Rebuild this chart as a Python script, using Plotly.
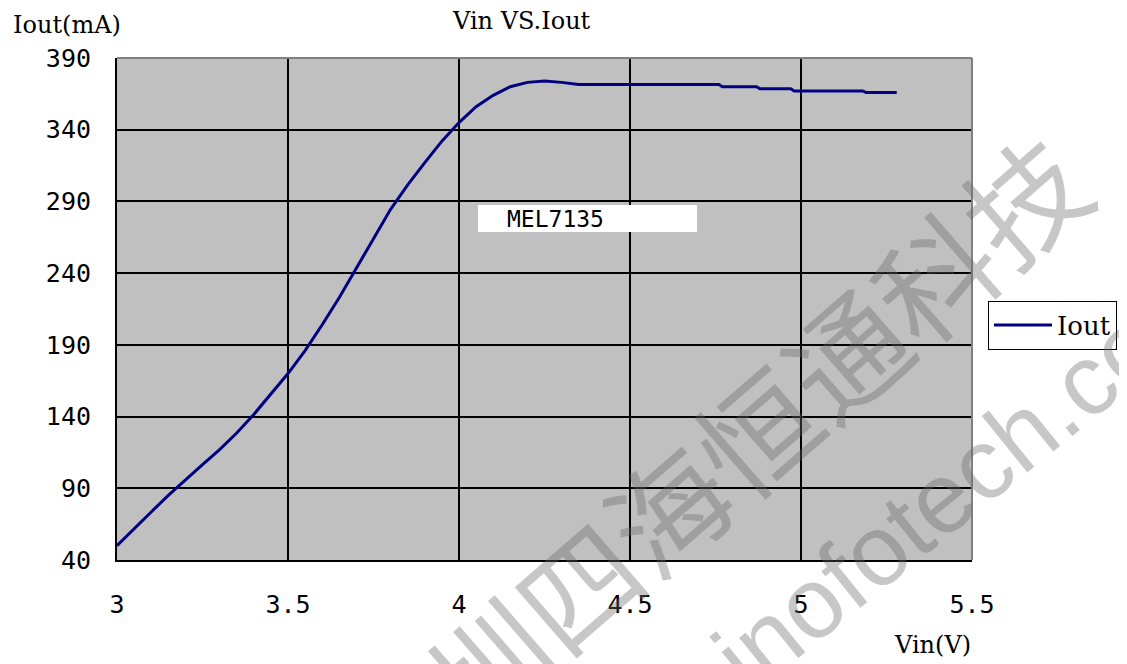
import plotly.graph_objects as go

# ---- data ----
vin = [3.0, 3.05, 3.1, 3.15, 3.2, 3.25, 3.3, 3.35, 3.4, 3.45, 3.5, 3.55, 3.6, 3.65,
       3.7, 3.75, 3.8, 3.85, 3.9, 3.95, 4.0, 4.05, 4.1, 4.15, 4.2, 4.25, 4.3, 4.35,
       4.45, 4.55, 4.65, 4.76, 4.77, 4.87, 4.88, 4.97, 4.98, 5.08, 5.18, 5.19, 5.28]
iout = [50, 62, 73.5, 85, 96, 106.5, 117, 128.5, 141.5, 155.5, 170, 186, 204, 223,
        243, 264, 284.5, 301.5, 317, 332, 345, 356, 364, 370, 373, 374, 373, 371.5,
        371.5, 371.5, 371.5, 371.5, 370, 370, 368.5, 368.5, 367, 367, 367, 366, 366]

series_name = "Iout"
chart_title = "Vin VS.Iout"
x_title = "Vin(V)"
y_title = "Iout(mA)"
label_text = "MEL7135"
x_ticks = [3, 3.5, 4, 4.5, 5, 5.5]
x_ticktext = ["3", "3.5", "4", "4.5", "5", "5.5"]
y_ticks = [40, 90, 140, 190, 240, 290, 340, 390]
watermark_cn = "深圳四海恒通科技"
watermark_url = "sinofotech.com"

OFF = 8                      # page body margin
W, H = 1127 - OFF, 664 - OFF
L, T = 117 - OFF, 58 - OFF
pw, ph = 855, 502
R, B = W - L - pw, H - T - ph

def px(x):  # reference pixel -> paper x
    return (x - OFF - L) / pw

def py(y):  # reference pixel -> paper y
    return (T + ph - (y - OFF)) / ph

tick_font = dict(family="DejaVu Sans Mono", size=25, color="black")
serif = "DejaVu Serif"

fig = go.Figure()
fig.add_trace(go.Scatter(x=vin, y=iout, mode="lines", name=series_name,
                         line=dict(color="#000080", width=3)))

fig.update_layout(
    width=W, height=H, autosize=False,
    margin=dict(l=L, r=R, t=T, b=B, autoexpand=False),
    paper_bgcolor="white", plot_bgcolor="#C0C0C0",
    showlegend=True,
    legend=dict(x=px(988), y=py(325), xanchor="left", yanchor="middle",
                bgcolor="white", bordercolor="black", borderwidth=1,
                font=dict(family=serif, size=26, color="black"),
                itemwidth=58),
    xaxis=dict(range=[3, 5.5], tickvals=x_ticks, ticktext=x_ticktext,
               showgrid=True, gridcolor="black", gridwidth=2,
               showline=True, linecolor="black", linewidth=2,
               ticks="", ticklabelstandoff=21, tickfont=tick_font,
               zeroline=False, fixedrange=True),
    yaxis=dict(range=[40, 390], tickvals=y_ticks,
               showgrid=True, gridcolor="black", gridwidth=2,
               showline=True, linecolor="black", linewidth=2,
               ticks="", ticklabelstandoff=19, tickfont=tick_font,
               zeroline=False, fixedrange=True),
)

# top / right border in grey, label box
fig.add_shape(type="line", xref="paper", yref="paper", x0=0, x1=1, y0=1, y1=1,
              line=dict(color="#808080", width=2), layer="above")
fig.add_shape(type="line", xref="paper", yref="paper", x0=1, x1=1, y0=0, y1=1,
              line=dict(color="#808080", width=2), layer="above")
fig.add_shape(type="rect", xref="paper", yref="paper",
              x0=px(478), x1=px(697), y0=py(232), y1=py(205),
              fillcolor="white", line=dict(width=0), layer="above")

fig.add_annotation(text=label_text, xref="paper", yref="paper",
                   x=px(505), y=py(218.5), xanchor="left", yanchor="middle",
                   showarrow=False,
                   font=dict(family="DejaVu Sans Mono", size=23, color="black"))

fig.add_annotation(text=chart_title, xref="paper", yref="paper",
                   x=px(521), y=py(21), xanchor="center", yanchor="middle",
                   showarrow=False, font=dict(family=serif, size=24, color="black"))
fig.add_annotation(text=y_title, xref="paper", yref="paper",
                   x=px(67), y=py(25), xanchor="center", yanchor="middle",
                   showarrow=False, font=dict(family=serif, size=24, color="black"))
fig.add_annotation(text=x_title, xref="paper", yref="paper",
                   x=px(932), y=py(645), xanchor="center", yanchor="middle",
                   showarrow=False, font=dict(family=serif, size=24, color="black"))

# watermark
wm_color = "rgba(104,104,104,0.37)"
fig.add_annotation(text=watermark_cn, xref="paper", yref="paper",
                   x=px(710), y=py(468), xanchor="center", yanchor="middle",
                   textangle=-41, showarrow=False,
                   font=dict(family="Noto Sans CJK SC", size=118, color=wm_color))
fig.add_annotation(text=watermark_url, xref="paper", yref="paper",
                   x=px(950), y=py(490), xanchor="center", yanchor="middle",
                   textangle=-39, showarrow=False,
                   font=dict(family="Liberation Sans", size=100, color=wm_color))

fig.write_html("out.html")
